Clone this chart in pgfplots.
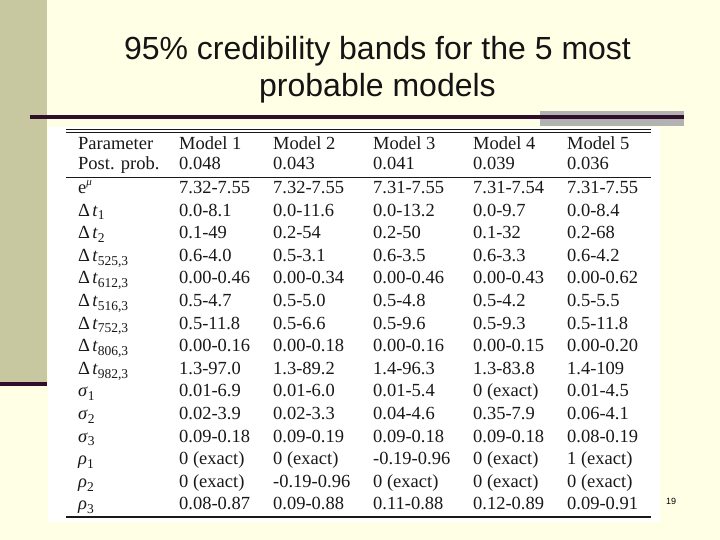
\documentclass[border=0pt]{standalone}
\usepackage{fontspec}
\setmainfont{Liberation Serif}
\newfontfamily\titlefont{Liberation Sans}
\usepackage{pgfplots}
\pgfplotsset{compat=1.18}
\definecolor{bgyellow}{RGB}{255,255,230}
\definecolor{olive}{RGB}{200,200,160}
\definecolor{darkline}{RGB}{48,14,44}
\definecolor{graybox}{RGB}{178,178,178}
\definecolor{txt}{RGB}{25,25,25}
\tikzset{cell/.style={anchor=base west, inner sep=0pt, text=txt,
    font=\fontsize{18.5}{22}\selectfont}}
\newcommand\sub[1]{\raisebox{-0.2em}{\fontsize{13.5}{14}\selectfont #1}}
\newcommand\dt[1]{Δ\kern0.12em\textit{t}\sub{#1}}
\newcommand\trow[7]{%
  \node[cell] at (78,#1) {#2};
  \node[cell] at (179,#1) {#3};
  \node[cell] at (273,#1) {#4};
  \node[cell] at (373,#1) {#5};
  \node[cell] at (473,#1) {#6};
  \node[cell] at (567,#1) {#7};
}
\begin{document}
\begin{tikzpicture}
\begin{axis}[scale only axis, width=720pt, height=540pt,
  xmin=0, xmax=720, ymin=0, ymax=540, y dir=reverse,
  hide axis, clip=false]
% background
\fill[bgyellow] (0,0) rectangle (720,540);
\fill[olive] (0,0) rectangle (47,382);
\fill[darkline] (0,382) rectangle (47,386);
\fill[graybox] (540,111) rectangle (684,126);
\fill[darkline] (30,115) rectangle (684,119);
\fill[white] (48,127) rectangle (660,522);
% title
\node[anchor=base, inner sep=0pt, text=black!92, font=\titlefont\fontsize{32}{37}\selectfont] at (377.5,60) {95\% credibility bands for the 5 most};
\node[anchor=base, inner sep=0pt, text=black!92, font=\titlefont\fontsize{32}{37}\selectfont] at (377.5,97) {probable models};
% rules
\draw[txt, line width=0.9pt] (66,129) -- (651,129);
\draw[txt, line width=0.9pt] (66,132.5) -- (651,132.5);
\draw[txt, line width=0.9pt] (66,177) -- (651,177);
\draw[txt, line width=1.2pt] (66,517) -- (651,517);
% table
\trow{150}{Parameter}{Model 1}{Model 2}{Model 3}{Model 4}{Model 5}
\trow{170}{Post. prob.}{0.048}{0.043}{0.041}{0.039}{0.036}
\trow{193.5}{e\raisebox{0.45em}{\fontsize{11}{12}\selectfont\textit{μ}}}{7.32-7.55}{7.32-7.55}{7.31-7.55}{7.31-7.54}{7.31-7.55}
\trow{216.1}{\dt{1}}{0.0-8.1}{0.0-11.6}{0.0-13.2}{0.0-9.7}{0.0-8.4}
\trow{238.7}{\dt{2}}{0.1-49}{0.2-54}{0.2-50}{0.1-32}{0.2-68}
\trow{261.3}{\dt{525,3}}{0.6-4.0}{0.5-3.1}{0.6-3.5}{0.6-3.3}{0.6-4.2}
\trow{283.9}{\dt{612,3}}{0.00-0.46}{0.00-0.34}{0.00-0.46}{0.00-0.43}{0.00-0.62}
\trow{306.5}{\dt{516,3}}{0.5-4.7}{0.5-5.0}{0.5-4.8}{0.5-4.2}{0.5-5.5}
\trow{329.1}{\dt{752,3}}{0.5-11.8}{0.5-6.6}{0.5-9.6}{0.5-9.3}{0.5-11.8}
\trow{351.7}{\dt{806,3}}{0.00-0.16}{0.00-0.18}{0.00-0.16}{0.00-0.15}{0.00-0.20}
\trow{374.3}{\dt{982,3}}{1.3-97.0}{1.3-89.2}{1.4-96.3}{1.3-83.8}{1.4-109}
\trow{396.9}{\textit{σ}\sub{1}}{0.01-6.9}{0.01-6.0}{0.01-5.4}{0 (exact)}{0.01-4.5}
\trow{419.5}{\textit{σ}\sub{2}}{0.02-3.9}{0.02-3.3}{0.04-4.6}{0.35-7.9}{0.06-4.1}
\trow{442.1}{\textit{σ}\sub{3}}{0.09-0.18}{0.09-0.19}{0.09-0.18}{0.09-0.18}{0.08-0.19}
\trow{464.7}{\textit{ρ}\sub{1}}{0 (exact)}{0 (exact)}{-0.19-0.96}{0 (exact)}{1 (exact)}
\trow{487.3}{\textit{ρ}\sub{2}}{0 (exact)}{-0.19-0.96}{0 (exact)}{0 (exact)}{0 (exact)}
\trow{509.9}{\textit{ρ}\sub{3}}{0.08-0.87}{0.09-0.88}{0.11-0.88}{0.12-0.89}{0.09-0.91}
% page number
\node[anchor=base west, inner sep=0pt, font=\titlefont\fontsize{9}{10}\selectfont] at (666,504) {19};
\end{axis}
\end{tikzpicture}
\end{document}
